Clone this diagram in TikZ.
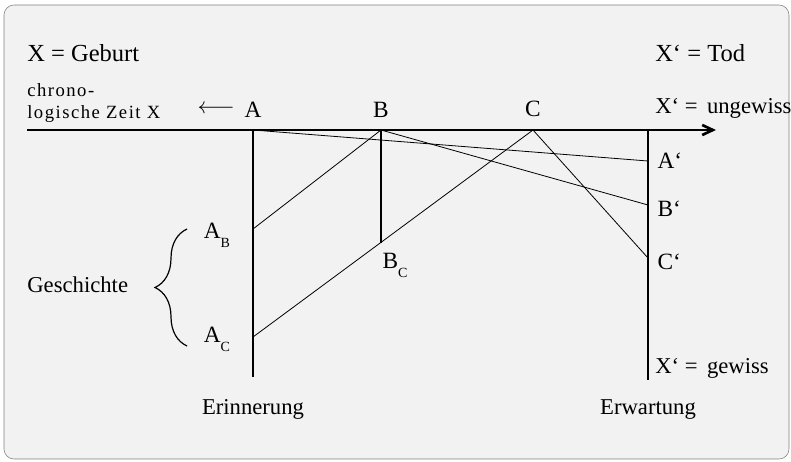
\documentclass[tikz,border=0pt]{standalone}
\usepackage{fontspec}
\setmainfont{Liberation Serif}
\usepackage{tikz}
\usetikzlibrary{arrows.meta, positioning, decorations.pathreplacing}
\tikzstyle{heading} = [inner sep=0pt, font=\fontsize{18.4}{22}\selectfont]
\tikzstyle{caption} = [inner sep=0pt, font=\fontsize{17}{20}\selectfont]
\tikzstyle{letter} = [inner sep=0pt, font=\fontsize{17.5}{20}\selectfont]
\tikzstyle{smalltext} = [inner sep=0pt, align=left,
font=\fontsize{14}{16.5}\selectfont\addfontfeature{LetterSpace=8}]
\tikzstyle{axis} = [line width=2pt, -{Straight Barb[length=8pt,width=7.5pt]}]
\tikzstyle{wall} = [line width=2pt]
\tikzstyle{ray} = [line width=0.6pt]
\tikzstyle{brace} = [decorate, decoration={brace, amplitude=24pt}, line width=0.9pt]
\newcommand{\sub}[1]{\raisebox{-0.38em}{\fontsize{10.5}{12}\selectfont #1}}

\begin{document}
\begin{tikzpicture}[x=0.75pt, y=-0.75pt]
    \useasboundingbox (0,0) rectangle (791,461);
    \draw[draw=gray, fill=black!5, rounded corners=7.5pt] (4,5) rectangle (789,459);

    % time axis
    \coordinate (start) at (27,130);
    \coordinate (end) at (716,130);
    \coordinate (A) at (253,130);
    \coordinate (B) at (381,130);
    \coordinate (C) at (533,130);
    \coordinate (R) at (648,130);
    % memory
    \coordinate (AB) at (253,229);
    \coordinate (AC) at (253,337);
    \coordinate (BC) at (381,243);
    \coordinate (Abot) at (253,377);
    % expectation
    \coordinate (Ae) at (648,161);
    \coordinate (Be) at (648,205);
    \coordinate (Ce) at (648,258);
    \coordinate (Rbot) at (648,380);
    % brace
    \coordinate (brtop) at (187,229);
    \coordinate (brbot) at (187,346);
    \coordinate (tip) at (155,285);

    \draw [axis] (start) -- (end);
    \draw [wall] (A) -- (Abot);
    \draw [wall] (R) -- (Rbot);
    \draw [line width=0.8pt] (B) -- (BC);
    \draw [ray] (A) -- (Ae);
    \draw [ray] (B) -- (AB);
    \draw [ray] (B) -- (Be);
    \draw [ray] (C) -- (AC);
    \draw [ray] (C) -- (Ce);
    \draw [brace] (brbot) -- (brtop);

    \node (geburt) [heading, anchor=base west] at (27,61.5) {X = Geburt};
    \node (tod) [heading, anchor=base west] at (655,61.5) {X‘ = Tod};
    \node (chrono) [smalltext, anchor=west] at (27,103) {chrono-\\logische Zeit X};
    \node (lA) [letter, above=9.5pt of A] {A};
    \node (lB) [letter, above=9.5pt of B] {B};
    \node (lC) [letter, above=9.5pt of C] {C};
    \node (back) [letter, left=7pt of lA, font=\fontsize{17.5}{20}\selectfont] {$\longleftarrow$};
    \node (ungewiss) [caption, anchor=base west] at (655,113) {X‘ = \,ungewiss};
    \node (lAe) [letter, right=7pt of Ae] {A‘};
    \node (lBe) [letter, right=7pt of Be, yshift=-3pt] {B‘};
    \node (lCe) [letter, right=7pt of Ce, yshift=-3pt] {C‘};
    \node (gewiss) [caption, anchor=base west] at (655,373) {X‘ = \,gewiss};
    \node (lAB) [letter, left=17pt of AB, yshift=-5pt] {A\sub{B}};
    \node (lAC) [letter, left=17pt of AC, yshift=-2pt] {A\sub{C}};
    \node (lBC) [letter, below right=7.5pt and 1pt of BC] {B\sub{C}};
    \node (geschichte) [caption, left=20pt of tip] {Geschichte};
    \node (erinnerung) [caption, anchor=base] at (Abot |- 0,414) {Erinnerung};
    \node (erwartung) [caption, anchor=base] at (Rbot |- 0,414) {Erwartung};
\end{tikzpicture}
\end{document}
